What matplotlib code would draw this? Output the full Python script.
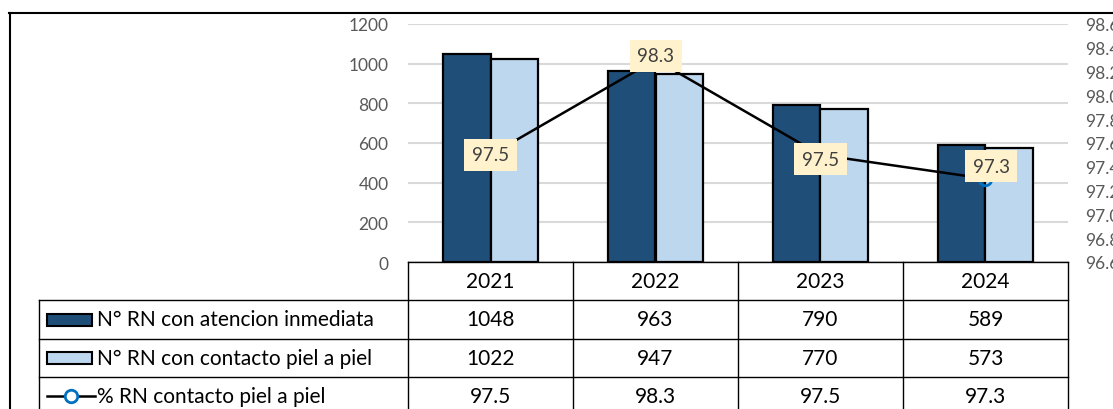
import matplotlib.pyplot as plt
from matplotlib.lines import Line2D
from matplotlib.patches import Rectangle
from matplotlib.transforms import blended_transform_factory

years = ['2021', '2022', '2023', '2024']
atencion = [1048, 963, 790, 589]
contacto = [1022, 947, 770, 573]
porcentaje = [97.5, 98.3, 97.5, 97.3]
series_names = ['N° RN con atencion inmediata', 'N° RN con contacto piel a piel', '% RN contacto piel a piel']

plt.rcParams['font.family'] = ['Lato', 'DejaVu Sans']

W, H = 1113, 410
fig = plt.figure(figsize=(W / 100, H / 100), dpi=100)

def fx(px):
    return px / W

def fy(py):
    return 1 - py / H

dark = '#1F4E79'
light = '#BDD7EE'
grid = '#D9D9D9'
tick_col = '#595959'

ax = fig.add_axes([fx(408), fy(263), fx(1068) - fx(408), fy(25) - fy(263)])
x = list(range(len(years)))
bw = 0.285
ax.bar([i - bw / 2 for i in x], atencion, bw, color=dark, edgecolor='black', linewidth=1.6, zorder=2)
ax.bar([i + bw / 2 for i in x], contacto, bw, color=light, edgecolor='black', linewidth=1.6, zorder=2)
ax.set_xlim(-0.5, 3.5)
ax.set_ylim(0, 1200)
ax.set_yticks(range(0, 1201, 200))
ax.yaxis.grid(True, color=grid, linewidth=1.5, zorder=0)
ax.set_axisbelow(True)
ax.set_xticks([])
for s in ax.spines.values():
    s.set_visible(False)
ax.tick_params(axis='y', length=0, pad=14, labelsize=12.5, labelcolor=tick_col)

ax2 = ax.twinx()
ax2.plot(x, porcentaje, color='black', linewidth=1.8, marker='o', markersize=9,
         markerfacecolor='none', markeredgecolor='#0070C0', markeredgewidth=2, zorder=3)
ax2.set_ylim(96.6, 98.6)
ax2.set_yticks([96.6 + 0.2 * k for k in range(11)])
ax2.set_yticklabels(['%.1f' % (96.6 + 0.2 * k) for k in range(11)])
for s in ax2.spines.values():
    s.set_visible(False)
ax2.tick_params(axis='y', length=0, pad=12, labelsize=12.5, labelcolor=tick_col)
offsets = [(0, 0), (0, 3), (0, -3), (4, 9)]
for i, v in zip(x, porcentaje):
    ax2.annotate('%.1f' % v, (i, v), xytext=offsets[i], textcoords='offset points',
                 ha='center', va='center', fontsize=13.5, color='#404040', zorder=4,
                 bbox=dict(boxstyle='square,pad=0.4', facecolor='#FFF2CC', edgecolor='none'))

# outer frame
fig.add_artist(Line2D([fx(9.5), fx(9.5)], [fy(14), fy(H + 5)], color='black', linewidth=1.5))
fig.add_artist(Line2D([fx(9), fx(W + 5)], [fy(14), fy(14)], color='black', linewidth=1.5))

# data table
tb = blended_transform_factory(ax.transData, fig.transFigure)
lw = 1.0
row_y = [263, 301, 340, 378, 416]
fig.add_artist(Line2D([-0.5, 3.5], [fy(263), fy(263)], transform=tb, color='black', linewidth=lw))
for ry in row_y[1:4]:
    fig.add_artist(Line2D([fx(39), fx(1068)], [fy(ry), fy(ry)], color='black', linewidth=lw))
fig.add_artist(Line2D([fx(39), fx(39)], [fy(301), fy(H + 5)], color='black', linewidth=lw))
for b in [-0.5, 0.5, 1.5, 2.5, 3.5]:
    fig.add_artist(Line2D([b, b], [fy(263), fy(H + 5)], transform=tb, color='black', linewidth=lw))

fs = 15
for i, yr in enumerate(years):
    fig.text(i, fy((263 + 301) / 2), yr, transform=tb, ha='center', va='center', fontsize=fs)
rows = [atencion, contacto, ['%.1f' % v for v in porcentaje]]
for r, vals in enumerate(rows):
    cy = fy((row_y[r + 1] + row_y[r + 2]) / 2)
    for i, v in enumerate(vals):
        fig.text(i, cy, str(v), transform=tb, ha='center', va='center', fontsize=fs)
    fig.text(fx(97), cy, series_names[r], ha='left', va='center', fontsize=fs)

# legend keys
for r, col in enumerate([dark, light]):
    cy = (row_y[r + 1] + row_y[r + 2]) / 2
    fig.add_artist(Rectangle((fx(47), fy(cy + 6)), fx(92) - fx(47), fy(cy - 6) - fy(cy + 6),
                             facecolor=col, edgecolor='black', linewidth=1.5))
cy = fy((row_y[3] + row_y[4]) / 2)
fig.add_artist(Line2D([fx(47), fx(95)], [cy, cy], color='black', linewidth=1.8))
fig.add_artist(Line2D([fx(71)], [cy], marker='o', markersize=9, markerfacecolor='white',
                      markeredgecolor='#0070C0', markeredgewidth=2))

fig.savefig('out.png', dpi=100)
